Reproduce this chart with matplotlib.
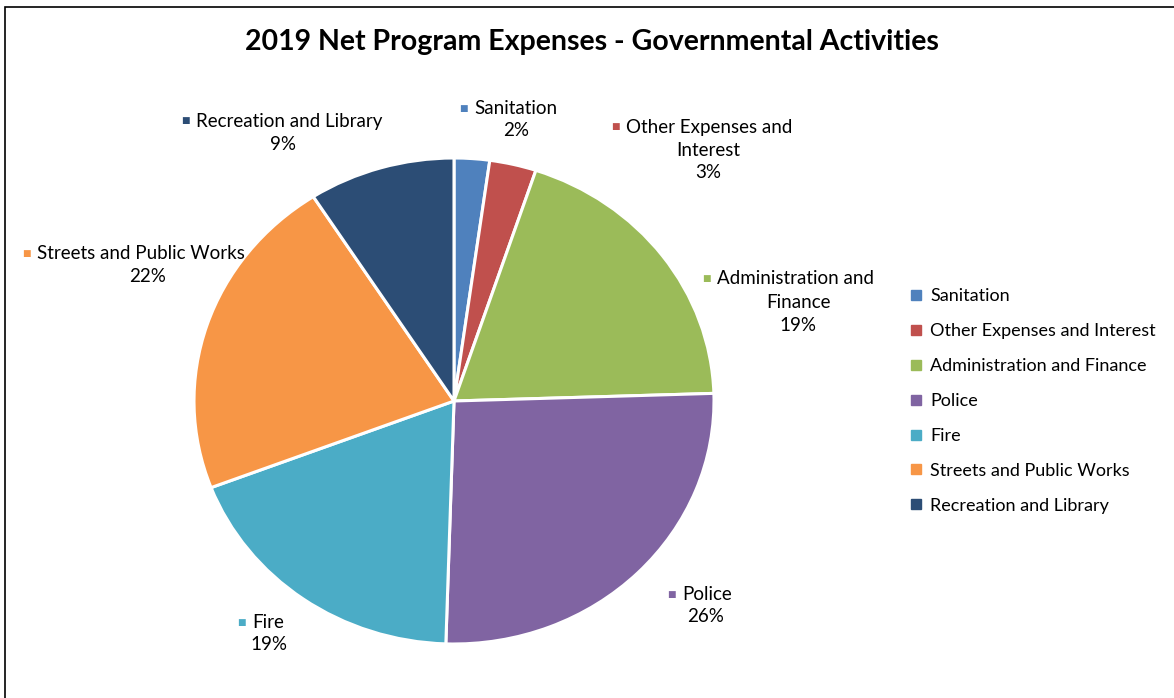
import matplotlib.pyplot as plt
from matplotlib.lines import Line2D
from matplotlib.patches import Rectangle

plt.rcParams['font.family'] = ['Lato', 'DejaVu Sans']

# net program expenses by function, percent of total
categories = ["Sanitation", "Other Expenses and Interest", "Administration and Finance",
              "Police", "Fire", "Streets and Public Works", "Recreation and Library"]
shares = [2.2, 2.9, 19.4, 26.0, 18.7, 21.7, 9.1]
colors = ["#4F81BD", "#C0504D", "#9BBB59", "#8064A2", "#4BACC6", "#F79646", "#2C4D75"]

# how each data label is wrapped
label_text = ["Sanitation", "Other Expenses and\nInterest", "Administration and\nFinance",
              "Police", "Fire", "Streets and Public Works", "Recreation and Library"]

W, H = 1174, 698
fig = plt.figure(figsize=(W / 100, H / 100), dpi=100)


def fx(px):
    return px / W


def fy(py):
    return 1 - py / H


# outer chart border
fig.patches.append(Rectangle((fx(5), -0.1), 1.2, fy(7) + 0.1, transform=fig.transFigure,
                             fill=False, edgecolor="#000000", linewidth=1.2))

fig.text(fx(592), fy(42), "2019 Net Program Expenses - Governmental Activities",
         ha="center", va="center", fontsize=20.5, fontweight="bold")

# pie occupies an elliptical area (stretched like the spreadsheet chart)
cx, cy, rx, ry = 454, 401, 260, 243
ax = fig.add_axes([fx(cx - rx), fy(cy + ry), 2 * rx / W, 2 * ry / H])
wedges, _ = ax.pie(shares, colors=colors, startangle=90, counterclock=False,
                   wedgeprops=dict(edgecolor="white", linewidth=2.2))
ax.set_aspect("auto")
ax.set_xlim(-1, 1)
ax.set_ylim(-1, 1)

# data labels: left edge of first line, its y, and centre x of the following lines
label_pos = [(474, 108, 516), (626, 127, 708), (717, 279, 798), (682, 594, 706),
             (252, 622, 269), (37, 253, 148), (196, 121, 283)]
line_gap = 23
for name, val, (left, top, mid), col in zip(label_text, shares, label_pos, colors):
    lines = name.split("\n") + [f"{round(val):d}%"]
    fig.text(fx(left - 15), fy(top), "\u25A0", color=col, ha="left", va="center",
             fontsize=6.5, family="DejaVu Sans")
    fig.text(fx(left), fy(top), lines[0], ha="left", va="center", fontsize=13.5)
    for i, ln in enumerate(lines[1:], start=1):
        fig.text(fx(mid), fy(top + i * line_gap), ln, ha="center", va="center", fontsize=13.5)

handles = [Line2D([], [], marker="s", linestyle="none", markersize=6.5,
                  markerfacecolor=c, markeredgecolor=c) for c in colors]
fig.legend(handles, categories, loc="upper left", bbox_to_anchor=(fx(911), fy(288)),
           frameon=False, fontsize=13, handlelength=0.6, handletextpad=0.45,
           labelspacing=1.05, borderpad=0, borderaxespad=0)

fig.savefig("out.png", dpi=100)
